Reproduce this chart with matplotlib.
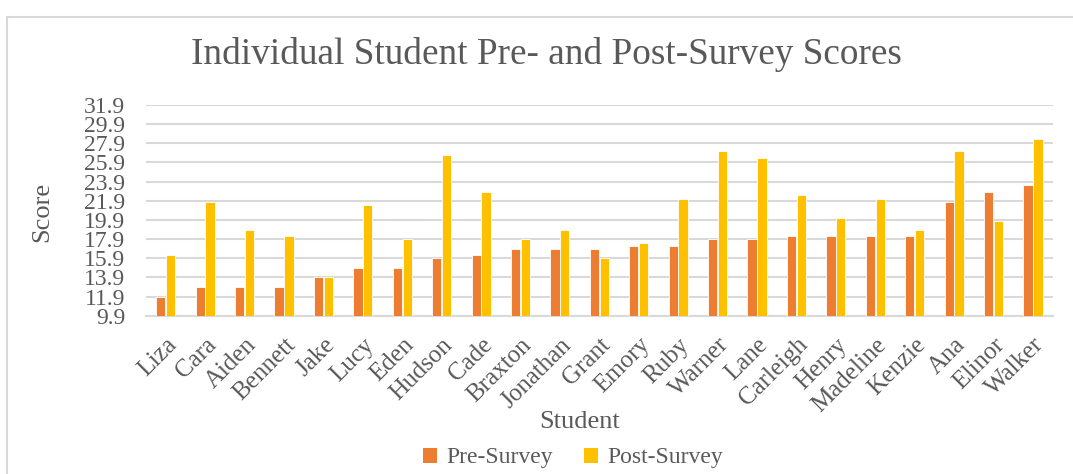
import matplotlib
matplotlib.use("Agg")
import matplotlib.pyplot as plt
import numpy as np
from matplotlib.patches import Patch

students = ["Liza", "Cara", "Aiden", "Bennett", "Jake", "Lucy", "Eden", "Hudson",
            "Cade", "Braxton", "Jonathan", "Grant", "Emory", "Ruby", "Warner",
            "Lane", "Carleigh", "Henry", "Madeline", "Kenzie", "Ana", "Elinor", "Walker"]
pre_survey = [11.9, 12.9, 12.9, 12.9, 13.9, 14.9, 14.9, 15.9, 16.2, 16.9, 16.9, 16.9,
              17.2, 17.2, 17.9, 17.9, 18.2, 18.2, 18.2, 18.2, 21.8, 22.8, 23.5]
post_survey = [16.2, 21.8, 18.8, 18.2, 13.9, 21.5, 17.9, 26.7, 22.8, 17.9, 18.9, 15.9,
               17.5, 22.1, 27.1, 26.4, 22.5, 20.1, 22.1, 18.9, 27.1, 19.8, 28.3]
y_ticks = [9.9, 11.9, 13.9, 15.9, 17.9, 19.9, 21.9, 23.9, 25.9, 27.9, 29.9, 31.9]

PRE = "#ED7D31"
POST = "#FFC000"
TXT = "#595959"
GRID = "#D9D9D9"
FONT = ["Liberation Serif", "DejaVu Serif"]

plt.rcParams['font.family'] = FONT

fig = plt.figure(figsize=(10.73, 4.74), dpi=100)
ax = fig.add_axes([146/1073, 1-315.7/474, (1052.7-146)/1073, (315.7-105)/474])

x = np.arange(len(students))
w = 0.235
ax.bar(x - 0.125, [v - y_ticks[0] for v in pre_survey], w, bottom=y_ticks[0],
       color=PRE, edgecolor="white", linewidth=0.6, zorder=3)
ax.bar(x + 0.125, [v - y_ticks[0] for v in post_survey], w, bottom=y_ticks[0],
       color=POST, edgecolor="white", linewidth=0.6, zorder=3)

ax.set_xlim(-0.5, len(students) - 0.5)
ax.set_ylim(y_ticks[0], y_ticks[-1])
ax.set_yticks(y_ticks)
ax.set_yticklabels([f"{t:.1f}" for t in y_ticks], fontsize=17, color=TXT)
ax.yaxis.grid(True, color=GRID, linewidth=1.5, zorder=0)
ax.set_axisbelow(True)
for s in ["top", "right", "left"]:
    ax.spines[s].set_visible(False)
ax.spines["bottom"].set_color(GRID)
ax.spines["bottom"].set_linewidth(1.5)
ax.tick_params(axis="x", length=0, pad=13)
ax.tick_params(axis="y", length=0, pad=15)

ax.set_xticks(x)
ax.set_xticklabels(students, rotation=45, ha="right", va="top",
                   rotation_mode="anchor", fontsize=18, color=TXT)

fig.text(42/1073, 1-212/474, "Score", ha="center", va="center", rotation=90,
         fontsize=19, color=TXT)
fig.text(580/1073, 1-422/474, "Student", ha="center", va="center", fontsize=19, color=TXT)
fig.text(546/1073, 1-54/474, "Individual Student Pre- and Post-Survey Scores",
         ha="center", va="center", fontsize=26.8, color=TXT)

handles = [Patch(facecolor=PRE, label="Pre-Survey"), Patch(facecolor=POST, label="Post-Survey")]
leg = fig.legend(handles=handles, loc="center", bbox_to_anchor=(573/1073, 1-458/474),
                 ncol=2, frameon=False, fontsize=17, handlelength=0.6, handleheight=0.6,
                 handletextpad=0.4, columnspacing=1.3)
for t in leg.get_texts():
    t.set_color(TXT)

# chart border (top and left visible)
fig.add_artist(plt.Line2D([7/1073, 1.0], [1-17/474, 1-17/474], color=GRID, linewidth=1.5,
                          transform=fig.transFigure))
fig.add_artist(plt.Line2D([7/1073, 7/1073], [0, 1-17/474], color=GRID, linewidth=1.5,
                          transform=fig.transFigure))

fig.savefig("out.png", dpi=100)
